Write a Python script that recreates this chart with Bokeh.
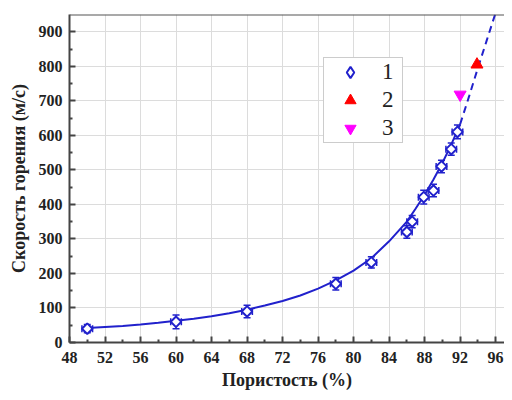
from bokeh.plotting import figure
from bokeh.models import Range1d, Whisker, ColumnDataSource, Legend, LegendItem, Span, FixedTicker
from bokeh.embed import file_html
from bokeh.resources import INLINE

# Series 1 (blue diamonds) with error bars
por1 = [50, 60, 68, 78, 82, 86, 86.6, 87.9, 89.0, 89.9, 91.0, 91.7]
vel1 = [40, 60, 90, 170, 232, 320, 350, 421, 440, 510, 560, 610]
yerr1 = [12, 20, 18, 18, 16, 18, 18, 20, 18, 18, 18, 20]
xerr1 = [0.6, 0.6, 0.6, 0.6, 0.6, 0.6, 0.6, 0.6, 0.6, 0.6, 0.6, 0.6]
# Series 2 (red triangle)
por2 = [93.9]
vel2 = [805]
# Series 3 (magenta inverted triangle)
por3 = [92.0]
vel3 = [718]
# Fitted curve (solid part) and extrapolation (dashed part)
fit_x = [50, 52, 54, 56, 58, 60, 62, 64, 66, 68, 70, 72, 74, 76, 78, 80, 82, 84, 86, 87, 88, 89, 90, 91, 92]
fit_y = [42, 45, 48, 52, 57, 63, 69, 76, 85, 95, 107, 120, 136, 156, 180, 208, 244, 293, 350, 388, 428, 472, 520, 573, 632]
ext_x = [92, 93, 94, 95, 96]
ext_y = [632, 712, 795, 875, 955]

x_ticks = [48, 52, 56, 60, 64, 68, 72, 76, 80, 84, 88, 92, 96]
y_ticks = [0, 100, 200, 300, 400, 500, 600, 700, 800, 900]
legend_labels = ["1", "2", "3"]

BLUE = "#2121cc"
SERIF = "Liberation Serif"

p = figure(width=504, height=392, output_backend="svg", toolbar_location=None,
           x_range=Range1d(48, 97), y_range=Range1d(0, 950),
           min_border_left=69, min_border_right=0, min_border_top=14, min_border_bottom=49)
p.outline_line_color = None
p.background_fill_color = "white"

# grid
p.xgrid.ticker = FixedTicker(ticks=x_ticks)
p.ygrid.ticker = FixedTicker(ticks=y_ticks)
for g in (p.xgrid, p.ygrid):
    g.grid_line_color = "#dcdcdc"
    g.grid_line_width = 1

# axes
p.xaxis.ticker = FixedTicker(ticks=x_ticks, minor_ticks=[50 + 4 * i for i in range(12)])
p.yaxis.ticker = FixedTicker(ticks=y_ticks, minor_ticks=[50 + 100 * i for i in range(9)])
for ax in (p.xaxis[0], p.yaxis[0]):
    ax.axis_line_color = "#444444"
    ax.axis_line_width = 2
    ax.major_tick_line_color = "#444444"
    ax.minor_tick_line_color = "#444444"
    ax.major_tick_line_width = 2
    ax.minor_tick_line_width = 2
    ax.major_tick_in = 6
    ax.major_tick_out = 0
    ax.minor_tick_in = 3
    ax.minor_tick_out = 0
    ax.major_label_text_font = SERIF
    ax.major_label_text_font_style = "bold"
    ax.major_label_text_font_size = "16px"
    ax.major_label_text_color = "#222222"
    ax.axis_label_text_font = SERIF
    ax.axis_label_text_font_style = "bold"
    ax.axis_label_text_font_size = "18px"
    ax.axis_label_text_color = "#222222"
p.xaxis.axis_label = "Пористость (%)"
p.yaxis.axis_label = "Скорость горения (м/с)"
p.xaxis.major_label_standoff = 9
p.yaxis.major_label_standoff = 7
p.xaxis.axis_label_standoff = 4
p.yaxis.axis_label_standoff = 7

# top border
p.add_layout(Span(location=950, dimension="width", line_color="#555555", line_width=2))

# curves
p.line(fit_x, fit_y, line_color=BLUE, line_width=2)
p.line(ext_x, ext_y, line_color=BLUE, line_width=2, line_dash="7 5")

# error bars
src = ColumnDataSource(dict(
    x=por1, y=vel1,
    ylo=[v - e for v, e in zip(vel1, yerr1)], yhi=[v + e for v, e in zip(vel1, yerr1)],
    xlo=[v - e for v, e in zip(por1, xerr1)], xhi=[v + e for v, e in zip(por1, xerr1)],
))
for dim, base, lo, hi in (("height", "x", "ylo", "yhi"), ("width", "y", "xlo", "xhi")):
    w = Whisker(source=src, base=base, lower=lo, upper=hi, dimension=dim,
                line_color=BLUE, line_width=1.5)
    for h in (w.upper_head, w.lower_head):
        h.size = 7
        h.line_color = BLUE
        h.line_width = 1.5
    p.add_layout(w)

# legend glyph for series 1 (legend markers are never rotated); hidden under the rotated squares
r1_leg = p.scatter("x", "y", source=src, marker="diamond", size=4, fill_color="white",
                   line_color=BLUE, line_width=2)
r1 = p.scatter("x", "y", source=src, marker="square", angle=0.7854, size=7.5, fill_color="white",
               line_color=BLUE, line_width=2)
r2 = p.scatter(por2, vel2, marker="triangle", size=12, fill_color="#ff0000", line_color="#ff0000")
r3 = p.scatter(por3, vel3, marker="inverted_triangle", size=12, fill_color="#ff00ff", line_color="#ff00ff")

legend = Legend(items=[LegendItem(label=legend_labels[0], renderers=[r1_leg]),
                       LegendItem(label=legend_labels[1], renderers=[r2]),
                       LegendItem(label=legend_labels[2], renderers=[r3])],
                location=(254, 199))
legend.label_text_font = SERIF
legend.label_text_font_size = "23px"
legend.label_text_color = "#222222"
legend.border_line_color = "#999999"
legend.border_line_width = 1.5
legend.padding = 0
legend.spacing = 0
legend.glyph_width = 52
legend.glyph_height = 28
legend.label_standoff = 6
legend.label_height = 24
legend.label_text_baseline = "middle"
legend.margin = 0
legend.background_fill_alpha = 1
p.add_layout(legend)

open("out.html", "w").write(file_html(p, INLINE))
